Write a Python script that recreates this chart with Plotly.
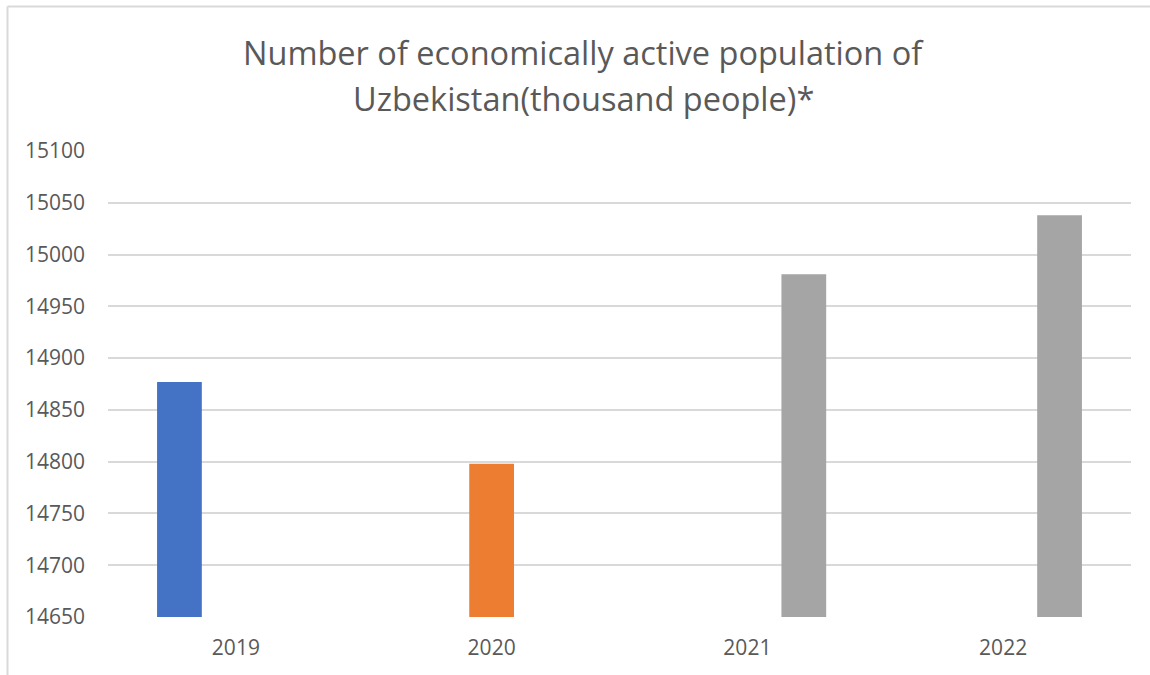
import plotly.graph_objects as go

categories = ["2019", "2020", "2021", "2022"]
series1 = [14877, None, None, None]
series2 = [None, 14798, None, None]
series3 = [None, None, 14981, 15038]
y_ticks = [14650, 14700, 14750, 14800, 14850, 14900, 14950, 15000, 15050, 15100]
title_line1 = "Number of economically active population of"
title_line2 = "Uzbekistan(thousand people)*"

W, H = 1150, 675
L, R, T, B = 108, 1131, 151, 617

def px(x):
    return (x - L) / (R - L)

def py(y):
    return (B - y) / (B - T)

FONT = "Open Sans"
TXT = "#595959"
GRID = "#d9d9d9"

fig = go.Figure()
for vals, col in [(series1, "#4472C4"), (series2, "#ED7D31"), (series3, "#A5A5A5")]:
    fig.add_trace(go.Bar(x=categories, y=vals, marker=dict(color=col, line=dict(width=0)),
                         showlegend=False, hoverinfo="x+y"))

fig.update_layout(
    width=W, height=H,
    margin=dict(l=L, r=W - R, t=T, b=H - B, pad=0),
    paper_bgcolor="white", plot_bgcolor="white",
    barmode="group", bargap=0.338, bargroupgap=0.207,
    font=dict(family=FONT, color=TXT, size=21),
    xaxis=dict(type="category", showgrid=False, showline=False, zeroline=False,
               ticks="", tickfont=dict(size=21, color=TXT, family=FONT), ticklabelstandoff=16),
    yaxis=dict(range=[14650, 15100], tickvals=y_ticks, ticktext=[str(v) for v in y_ticks],
               showgrid=True, gridcolor=GRID, gridwidth=1.5, zeroline=False, showline=False,
               ticks="", tickfont=dict(size=21, color=TXT, family=FONT), ticklabelstandoff=22),
    annotations=[
        dict(text=title_line1, xref="paper", yref="paper", x=px(583), y=py(52),
             xanchor="center", yanchor="middle", showarrow=False,
             font=dict(family=FONT, size=32.5, color=TXT)),
        dict(text=title_line2, xref="paper", yref="paper", x=px(583), y=py(98),
             xanchor="center", yanchor="middle", showarrow=False,
             font=dict(family=FONT, size=32.5, color=TXT)),
    ],
    shapes=[
        dict(type="line", xref="paper", yref="paper", x0=px(7.5), x1=px(7.5), y0=py(6.5), y1=py(680),
             line=dict(color=GRID, width=2)),
        dict(type="line", xref="paper", yref="paper", x0=px(7.5), x1=px(1160), y0=py(6.5), y1=py(6.5),
             line=dict(color=GRID, width=2)),
    ],
)

fig.write_html("out.html")
